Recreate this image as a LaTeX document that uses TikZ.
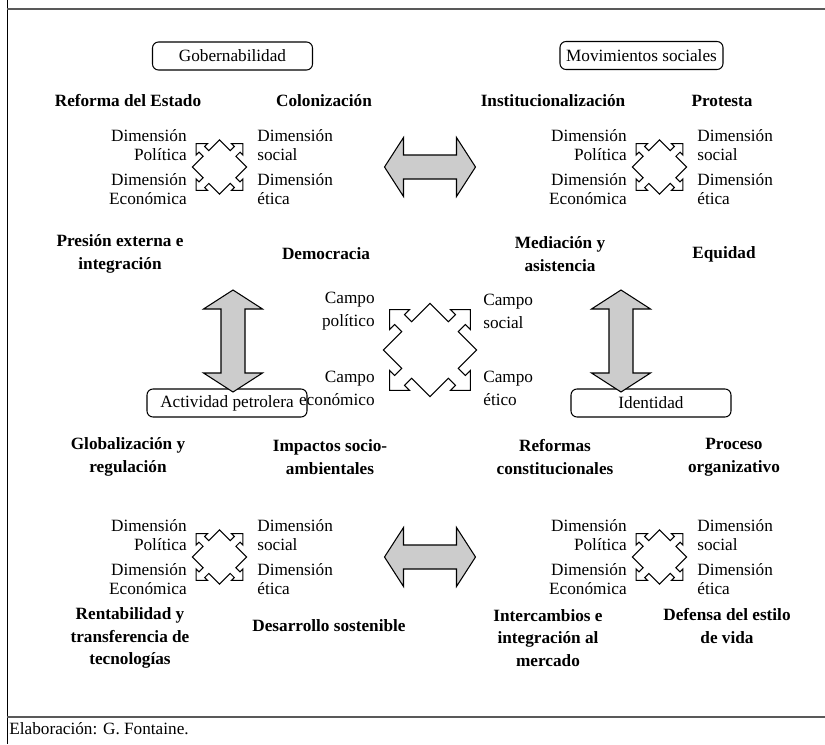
\documentclass[tikz,border=0pt]{standalone}
\usepackage{fontspec}
\setmainfont{Liberation Serif}
\usepackage{xcolor}

\tikzset{
  crossline/.style={black, line width=0.6pt, line join=miter},
  arrowshape/.style={draw=black, fill=gray!40, line width=0.6pt},
  theme/.style={draw, rounded corners=0.12cm, line width=0.6pt,
    minimum width=3.2cm, minimum height=0.56cm, inner sep=1pt},
  topic/.style={font=\fontsize{9.8}{13}\selectfont\bfseries, align=center, inner sep=0pt},
  dimlabel/.style={font=\fontsize{9.8}{10.8}\selectfont, inner sep=0pt},
  campolabel/.style={font=\fontsize{9.8}{13}\selectfont, inner sep=0pt},
  % four arrows around a square, turned by 45 degrees
  campocross/.pic={
    \draw[crossline, rotate=45] (33,-33)
      -- (33,-7) -- (43,-7) -- (43,-14) -- (57,0) -- (43,14) -- (43,7) -- (33,7)
      -- (33,33)
      -- (7,33) -- (7,43) -- (14,43) -- (0,57) -- (-14,43) -- (-7,43) -- (-7,33)
      -- (-33,33)
      -- (-33,7) -- (-43,7) -- (-43,14) -- (-57,0) -- (-43,-14) -- (-43,-7) -- (-33,-7)
      -- (-33,-33)
      -- (-7,-33) -- (-7,-43) -- (-14,-43) -- (0,-57) -- (14,-43) -- (7,-43) -- (7,-33)
      -- cycle;
  },
  % grey double arrow, #1 = half length
  bigarrow/.pic={
    \draw[arrowshape] (-#1,0) -- (-#1+19,-29.5) -- (-#1+19,-12) -- (#1-19,-12)
      -- (#1-19,-29.5) -- (#1,0) -- (#1-19,29.5) -- (#1-19,12)
      -- (-#1+19,12) -- (-#1+19,29.5) -- cycle;
  }
}

\begin{document}
\begin{tikzpicture}[x=0.2mm, y=-0.2mm, font=\fontsize{9.8}{13}\selectfont]
\useasboundingbox (0,0) rectangle (825,744);

%%%%%%%%%%%% frame %%%%%%%%%%%%
\draw[black, line width=0.4pt] (7,0) -- (7,744);
\draw[black!65, line width=1pt] (7,9) -- (825,9);
\draw[black!65, line width=1pt] (7,717) -- (825,717);
\node[anchor=west, inner sep=0pt] (source) at (9,729) {Elaboración: G. Fontaine.};

%%%%%%%%%%%% themes %%%%%%%%%%%%
\node[theme] (gob) at (232.5,56) {Gobernabilidad};
\node[theme, minimum width=3.26cm] (mov) at (641.5,55.5) {Movimientos sociales};
\node[theme] (pet) at (227,403) {Actividad petrolera};
\node[theme] (ide) at (651,403) {Identidad};

%%%%%%%%%%%% topics %%%%%%%%%%%%
% top left
\node[topic] (reforma) at (128,101) {Reforma del Estado};
\node[topic] (colon) at (324,101) {Colonización};
\node[topic] (presion) at (120,254) {Presión externa e\\integración};
\node[topic] (democ) at (326,254) {Democracia};
% top right
\node[topic] (instit) at (553,101) {Institucionalización};
\node[topic] (protesta) at (722,101) {Protesta};
\node[topic] (mediac) at (560,254) {Mediación y\\asistencia};
\node[topic] (equidad) at (724,254) {Equidad};
% bottom left
\node[topic] (global) at (128,457) {Globalización y\\regulación};
\node[topic] (impact) at (330,457) {Impactos socio-\\ambientales};
\node[topic] (rentab) at (130,638) {Rentabilidad y\\transferencia de\\tecnologías};
\node[topic] (desarr) at (329,626) {Desarrollo sostenible};
% bottom right
\node[topic] (reformas) at (555,457) {Reformas\\constitucionales};
\node[topic] (proceso) at (734,457) {Proceso\\organizativo};
\node[topic] (intercam) at (548,638) {Intercambios e\\integración al\\mercado};
\node[topic] (defensa) at (727,626) {Defensa del estilo\\de vida};

%%%%%%%%%%%% small crosses %%%%%%%%%%%%
\foreach \cx/\cy/\n in {219.5/167/tl, 659.5/167/tr, 219.5/557/bl, 659.5/557/br}
{
\begin{scope}[shift={(\cx,\cy)}]
\pic[scale=0.58] at (0,0) {campocross};
\node[dimlabel, anchor=east, align=right] (pol\n) at (-32.5,-22) {Dimensión\\Política};
\node[dimlabel, anchor=west, align=left] (soc\n) at (37.5,-22) {Dimensión\\social};
\node[dimlabel, anchor=east, align=right] (eco\n) at (-32.5,22) {Dimensión\\Económica};
\node[dimlabel, anchor=west, align=left] (eti\n) at (37.5,22) {Dimensión\\ética};
\end{scope}
}

%%%%%%%%%%%% central cross %%%%%%%%%%%%
\pic at (430,350) {campocross};
\node[campolabel, anchor=east, align=right] (cpol) at (375,311.5) {Campo\\político};
\node[campolabel, anchor=west, align=left] (csoc) at (483,311.5) {Campo\\social};
\node[campolabel, anchor=east, align=right] (ceco) at (375,388.5) {Campo\\económico};
\node[campolabel, anchor=west, align=left] (ceti) at (483,388.5) {Campo\\ético};

%%%%%%%%%%%% big arrows %%%%%%%%%%%%
\pic at (430,167) {bigarrow=45.5};
\pic at (430,557) {bigarrow=45.5};
\pic[rotate=90] at (233,341) {bigarrow=51};
\pic[rotate=90] at (621,341) {bigarrow=51};

\end{tikzpicture}
\end{document}
